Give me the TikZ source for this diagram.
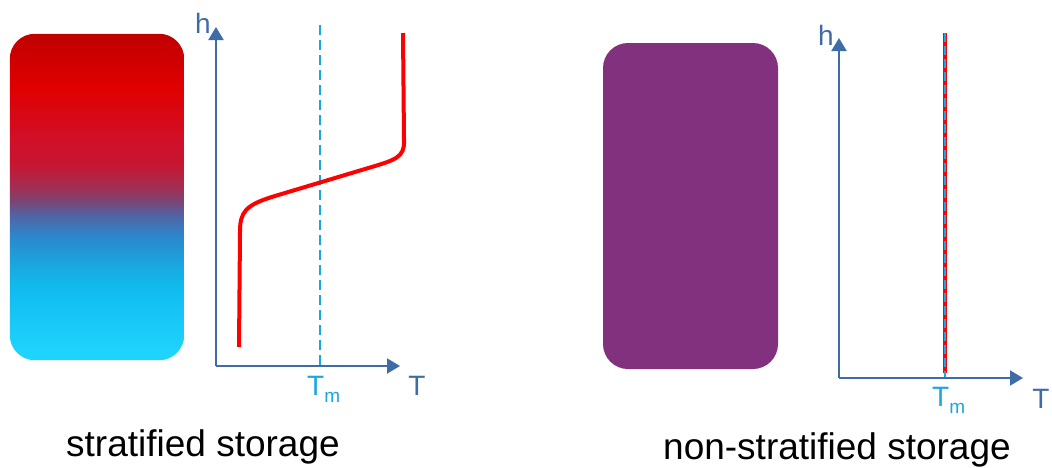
\documentclass[tikz,border=0pt]{standalone}
\usepackage{fontspec}
\setmainfont{Liberation Sans}
\usetikzlibrary{arrows.meta}
\definecolor{axisblue}{RGB}{62,108,166}
\definecolor{tmblue}{RGB}{27,166,224}
\definecolor{tankpurple}{RGB}{130,49,126}
\definecolor{curvered}{RGB}{255,0,0}
\definecolor{ga}{RGB}{30,212,255}
\definecolor{gb}{RGB}{30,210,252}
\definecolor{gc}{RGB}{18,190,242}
\definecolor{gd}{RGB}{18,181,232}
\definecolor{ge}{RGB}{43,136,204}
\definecolor{gf}{RGB}{85,96,160}
\definecolor{gg}{RGB}{122,69,117}
\definecolor{gh}{RGB}{165,45,80}
\definecolor{gi}{RGB}{200,21,48}
\definecolor{gj}{RGB}{208,16,42}
\definecolor{gk}{RGB}{224,0,0}
\definecolor{gl}{RGB}{192,0,0}
\pgfdeclareverticalshading{tankgrad}{100bp}{color(0bp)=(ga); color(25bp)=(ga); color(27bp)=(gb); color(35bp)=(gc); color(37.5bp)=(gd); color(44bp)=(ge); color(47.5bp)=(gf); color(49.3bp)=(gg); color(51.7bp)=(gh); color(55.3bp)=(gi); color(58.5bp)=(gj); color(66.8bp)=(gk); color(75bp)=(gl); color(100bp)=(gl)}
\tikzset{
  tankbox/.style={rounded corners=25pt, inner sep=0pt, minimum width=174pt, minimum height=326pt},
  axisline/.style={draw=axisblue, line width=2pt, -{Triangle[length=13pt,width=15pt]}},
  axislabel/.style={text=axisblue, font=\fontsize{28}{28}\selectfont, inner sep=0pt},
  tmlabel/.style={text=tmblue, font=\fontsize{28}{28}\selectfont, inner sep=0pt},
  tmline/.style={draw=tmblue, line width=2.4pt, dash pattern=on 10pt off 5pt},
  tmlinethin/.style={draw=tmblue, line width=1.5pt, dash pattern=on 9pt off 4pt},
  profile/.style={draw=curvered, line width=4pt},
  caption/.style={font=\fontsize{37}{37}\selectfont, inner sep=0pt, anchor=base west}
}
\newcommand{\tmtext}{T\raisebox{-7pt}{\fontsize{19}{19}\selectfont m}}
\begin{document}
\begin{tikzpicture}[x=1pt,y=-1pt]
\useasboundingbox (0,0) rectangle (1052,467);
% ---------- left: stratified ----------
\node[tankbox] (tankL) at (97,197) {};
\begin{scope}
  \clip[rounded corners=25pt] (tankL.south west) rectangle (tankL.north east);
  \shade[shading=tankgrad] (tankL.south west) rectangle (tankL.north east);
\end{scope}
\coordinate (oL) at (216,366);
\coordinate (hL) at (216,27);
\coordinate (TL) at (400,366);
\coordinate (tmLtop) at (320,25);
\coordinate (tmLbot) at (320,366);
\draw[tmline] (tmLtop) -- (tmLbot);
\draw[axisline] (oL) -- (hL);
\draw[axisline] (oL) -- (TL);
\node[axislabel, anchor=base] (hlabL) at (203,33) {h};
\node[axislabel, anchor=base] (TlabL) at (417,395) {T};
\node[tmlabel, anchor=base west] (tmlabL) at (307,395) {\tmtext};
\coordinate (cTop) at (403,33);
\coordinate (cBot) at (239,347);
\draw[profile] (cTop) -- (404,140) .. controls (405,158) and (395,160) .. (365,169) -- (275,196) .. controls (245,205) and (240,212) .. (240,232) -- (cBot);
\node[caption] (capL) at (66,456) {stratified storage};
% ---------- right: non-stratified ----------
\node[tankbox, fill=tankpurple, minimum width=175pt] (tankR) at (690.5,206) {};
\coordinate (oR) at (839,378);
\coordinate (hR) at (839,38);
\coordinate (TR) at (1023,378);
\coordinate (rTop) at (945,33);
\coordinate (rBot) at (945,373);
\coordinate (rAx) at (945,378);
\draw[profile] (rTop) -- (rBot);
\draw[tmlinethin] (rTop) -- (rAx);
\draw[axisline] (oR) -- (hR);
\draw[axisline] (oR) -- (TR);
\node[axislabel, anchor=base] (hlabR) at (826,45) {h};
\node[axislabel, anchor=base] (TlabR) at (1041,408) {T};
\node[tmlabel, anchor=base west] (tmlabR) at (932,406) {\tmtext};
\node[caption] (capR) at (663,459) {non-stratified storage};
\end{tikzpicture}
\end{document}
